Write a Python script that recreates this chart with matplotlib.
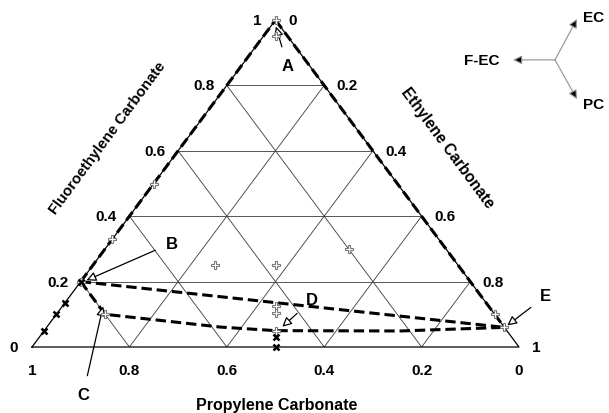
import numpy as np
import matplotlib
matplotlib.use("Agg")
import matplotlib.pyplot as plt

plt.rcParams['font.family'] = ['Liberation Sans', 'DejaVu Sans']
plt.rcParams['font.weight'] = 'bold'

# compositions as (F-EC, EC) fractions; PC = 1 - F-EC - EC
open_f = [1.0, 0.95, 0.5, 0.33, 0.25, 0.25, 0.30, 0.10, 0.125, 0.105, 0.05, 0.10, 0.20, 0.06]
open_e = [0.0, 0.025, 0.0, 0.0, 0.25, 0.375, 0.50, 0.90, 0.4375, 0.4475, 0.475, 0.10, 0.0, 0.94]

cross_f = [0.03, 0.0, 0.05, 0.10, 0.135, 0.20]
cross_e = [0.485, 0.5, 0.0, 0.0, 0.0, 0.0]

# boundary B -> E (upper) and B -> C -> E (lower)
upper_f = [0.20, 0.06]
upper_e = [0.0, 0.94]
lower_f = [0.20, 0.10, 0.061, 0.05, 0.049, 0.06]
lower_e = [0.0, 0.10, 0.356, 0.475, 0.731, 0.94]

# labelled points
point_names = ['A', 'B', 'C', 'D', 'E']
point_f = [1.0, 0.20, 0.10, 0.05, 0.06]
point_e = [0.0, 0.0, 0.10, 0.475, 0.94]

ticks = [0, 0.2, 0.4, 0.6, 0.8, 1]
tick_text = ['0', '0.2', '0.4', '0.6', '0.8', '1']


def to_xy(f, e):
    f = np.asarray(f, dtype=float)
    e = np.asarray(e, dtype=float)
    return e + f / 2.0, f


fig = plt.figure(figsize=(6.09, 4.14), dpi=100)
ax = fig.add_axes([32 / 609, 66 / 414, 487 / 609, 327 / 414])
ax.set_xlim(0, 1)
ax.set_ylim(0, 1)
ax.axis('off')

# grid
gcol = '#3a3a3a'
for t in [0.2, 0.4, 0.6, 0.8]:
    # constant F-EC
    x, y = to_xy([t, t], [0, 1 - t])
    ax.plot(x, y, color=gcol, lw=0.6)
    # constant EC
    x, y = to_xy([0, 1 - t], [t, t])
    ax.plot(x, y, color=gcol, lw=0.6)
    # constant PC
    x, y = to_xy([0, 1 - t], [1 - t, 0])
    ax.plot(x, y, color=gcol, lw=0.6)

# outer triangle
x, y = to_xy([0, 0, 1, 0], [0, 1, 0, 0])
ax.plot(x, y, color='black', lw=0.9, clip_on=False)

dash = (0, (3.4, 1.6))
# left edge from B to the top, right edge from the top to E
x, y = to_xy([upper_f[0], 1.0], [0, 0])
ax.plot(x, y, color='black', lw=2.2, ls=dash, clip_on=False)
x, y = to_xy([1.0, upper_f[-1]], [0, upper_e[-1]])
ax.plot(x, y, color='black', lw=2.2, ls=dash, clip_on=False)
x, y = to_xy(upper_f, upper_e)
ax.plot(x, y, color='black', lw=2.2, ls=dash, clip_on=False)
x, y = to_xy(lower_f, lower_e)
ax.plot(x, y, color='black', lw=2.2, ls=dash, clip_on=False)

# measured compositions
x, y = to_xy(open_f, open_e)
ax.plot(x, y, ls='none', marker='P', ms=5.2, mfc='white', mec='#7a7a7a', mew=0.8,
        clip_on=False, zorder=5)
x, y = to_xy(cross_f, cross_e)
ax.plot(x, y, ls='none', marker='x', ms=5, color='black', mew=1.8,
        clip_on=False, zorder=5)

# tick labels on the three edges
tick_kw = dict(textcoords='offset pixels', fontsize=11, fontweight='bold',
               ha='center', va='center')
for t, s in zip(ticks, tick_text):
    # F-EC along the left edge
    x, y = to_xy(t, 0)
    ax.annotate(s, (x, y), xytext=(-23 if 0 < t < 1 else -18, 0), **tick_kw)
    # EC along the right edge
    x, y = to_xy(1 - t, t)
    ax.annotate(s, (x, y), xytext=(23 if 0 < t < 1 else 17, 0), **tick_kw)
    # PC along the bottom
    x, y = to_xy(0, 1 - t)
    ax.annotate(s, (x, y), xytext=(0, -23), **tick_kw)

# edge titles
ax.text(0.156, 0.64, 'Fluoroethylene Carbonate', rotation=53.5, rotation_mode='anchor',
        ha='center', va='center', fontsize=10.8, fontweight='bold')
ax.text(0.852, 0.61, 'Ethylene Carbonate', rotation=-53.5, rotation_mode='anchor',
        ha='center', va='center', fontsize=11.2, fontweight='bold')
ax.text(0.502, -0.175, 'Propylene Carbonate', ha='center', va='center',
        fontsize=11.5, fontweight='bold')

# point labels with open-head arrows
label_pos = [(0.524, 0.862), (0.287, 0.318), (0.105, -0.144), (0.575, 0.144), (1.055, 0.156)]
tip_shift = [(0.001, -0.02), (0.012, 0.004), (-0.004, 0.024), (0.014, 0.012), (0.006, 0.006)]
px, py = to_xy(point_f, point_e)
for name, x0, y0, (lx, ly), (dx, dy) in zip(point_names, px, py, label_pos, tip_shift):
    ax.annotate(name, xy=(x0 + dx, y0 + dy), xytext=(lx, ly), fontsize=12,
                fontweight='bold', ha='center', va='center', annotation_clip=False,
                arrowprops=dict(arrowstyle='-|>', fc='white', ec='black', lw=0.9,
                                mutation_scale=14, shrinkA=6, shrinkB=0))

# axis direction key
cx, cy = 1.074, 0.878
key = [('EC', (1.119, 1.003), (1.154, 1.01)),
       ('F-EC', (0.988, 0.878), (0.924, 0.878)),
       ('PC', (1.119, 0.758), (1.154, 0.742))]
for name, tip, lab in key:
    ax.annotate('', xy=tip, xytext=(cx, cy), annotation_clip=False,
                arrowprops=dict(arrowstyle='-|>', fc='black', ec='#909090', lw=0.8,
                                mutation_scale=13, shrinkA=0, shrinkB=0))
    ax.text(lab[0], lab[1], name, ha='center', va='center', fontsize=11,
            fontweight='bold', clip_on=False)

fig.savefig('out.png', dpi=100)
